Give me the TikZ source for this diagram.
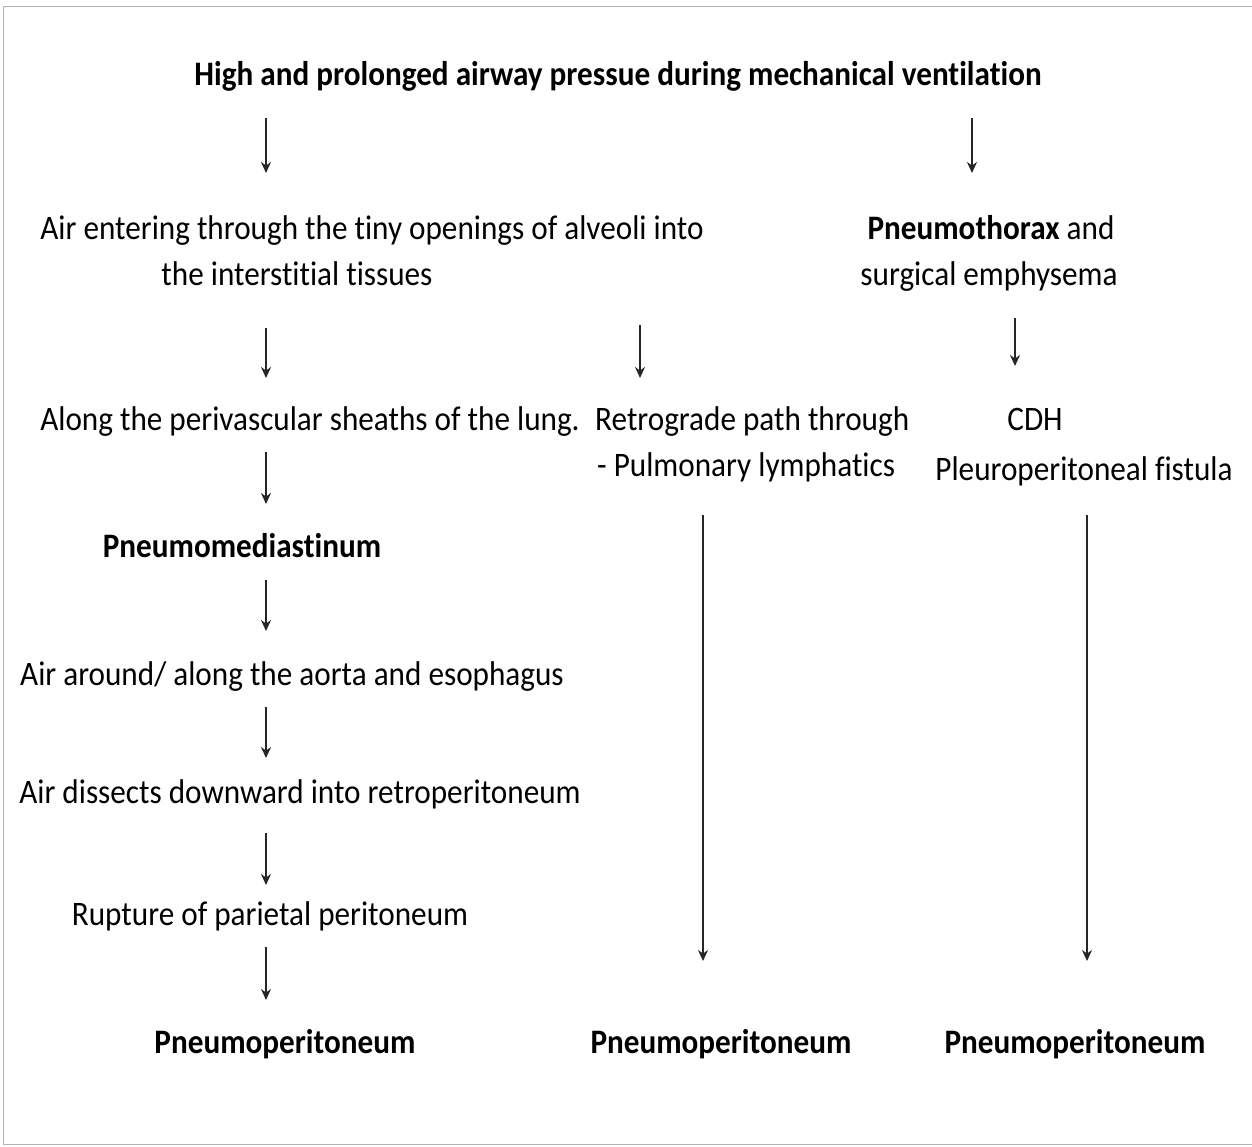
\documentclass[tikz,border=0pt]{standalone}
\usepackage{fontspec}
\setmainfont{Carlito}[Ligatures={NoCommon}]
\usetikzlibrary{arrows.meta}
\tikzset{
  txt/.style={inner sep=0pt, anchor=base, font=\fontsize{31.2}{46}\selectfont, yscale=1.1, transform shape},
  btxt/.style={txt, font=\fontsize{31.2}{46}\selectfont\bfseries},
  flow/.style={draw=black!85, line width=1.5pt, -{Stealth[length=11pt,width=10pt]}},
  frame/.style={draw=black!30, line width=1pt}
}
\begin{document}
\begin{tikzpicture}[x=1pt,y=-1pt]
\useasboundingbox (0,0) rectangle (1252,1147);
\draw[frame] (1252,7) -- (3,7) -- (3,1144) -- (1252,1144);
% texts
\node[btxt] (top) at (618,86) {High and prolonged airway pressue during mechanical ventilation};
\node[txt] (a1) at (372,240) {Air entering through the tiny openings of alveoli into};
\node[txt] (a2) at (297,286) {the interstitial tissues};
\node[txt] (p1) at (991,240) {\textbf{Pneumothorax} and};
\node[txt] (p2) at (989,286) {surgical emphysema};
\node[txt] (b1) at (310,430) {Along the perivascular sheaths of the lung.};
\node[txt, anchor=base west] (r1) at (595,430) {Retrograde path through};
\node[txt, anchor=base west] (r2) at (597,476) {- Pulmonary lymphatics};
\node[txt] (c1) at (1035,430) {CDH};
\node[txt] (c2) at (1084,480) {Pleuroperitoneal fistula};
\node[btxt] (pm) at (242,557) {Pneumomediastinum};
\node[txt] (ao) at (292,685) {Air around/ along the aorta and esophagus};
\node[txt] (ad) at (300,803) {Air dissects downward into retroperitoneum};
\node[txt] (ru) at (270,925) {Rupture of parietal peritoneum};
\node[btxt] (e1) at (285,1053) {Pneumoperitoneum};
\node[btxt] (e2) at (721,1053) {Pneumoperitoneum};
\node[btxt] (e3) at (1075,1053) {Pneumoperitoneum};
% arrow endpoints
\coordinate (s1) at (266,118); \coordinate (t1) at (266,173);
\coordinate (s2) at (972,118); \coordinate (t2) at (972,173);
\coordinate (s3) at (266,328); \coordinate (t3) at (266,378);
\coordinate (s4) at (640,325); \coordinate (t4) at (640,378);
\coordinate (s5) at (1015,318); \coordinate (t5) at (1015,366);
\coordinate (s6) at (266,452); \coordinate (t6) at (266,504);
\coordinate (s7) at (266,580); \coordinate (t7) at (266,631);
\coordinate (s8) at (266,707); \coordinate (t8) at (266,758);
\coordinate (s9) at (266,833); \coordinate (t9) at (266,885);
\coordinate (s10) at (266,947); \coordinate (t10) at (266,1000);
\coordinate (s11) at (703,515); \coordinate (t11) at (703,961);
\coordinate (s12) at (1087,515); \coordinate (t12) at (1087,961);
\foreach \i in {1,...,12} { \draw[flow] (s\i) -- (t\i); }
\end{tikzpicture}
\end{document}
